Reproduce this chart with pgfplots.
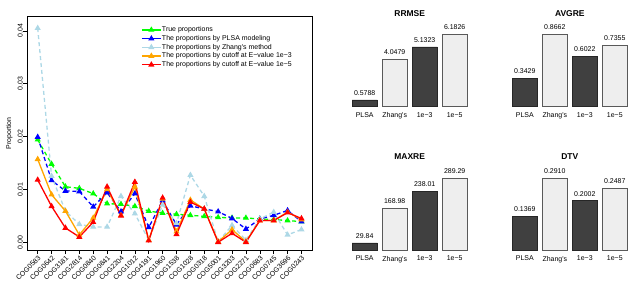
\documentclass[border=0pt]{standalone}
\usepackage{pgfplots}
\pgfplotsset{compat=1.18}
\usepackage{fontspec}
\setmainfont{Liberation Sans}[Ligatures=TeXOff]
\definecolor{rgreen}{RGB}{0,255,0}
\definecolor{rblue}{RGB}{0,0,255}
\definecolor{rlightblue}{RGB}{173,216,230}
\definecolor{rorange}{RGB}{255,165,0}
\definecolor{rred}{RGB}{255,0,0}
\definecolor{darkbar}{RGB}{64,64,64}
\definecolor{lightbar}{RGB}{238,238,238}
\pgfplotsset{
  /pgf/number format/assume math mode=true,
  ser/.style={line width=1.3bp, mark=triangle*, mark size=2.3bp, mark options={solid}},
  dsh/.style={dash pattern=on 4bp off 3bp},
  barpanel/.style={
    scale only axis, width=120bp, height=72bp,
    xmin=-0.5, xmax=3.5, ymin=0,
    axis line style={draw=none}, ytick=\empty,
    xtick={0,1,2,3}, xticklabels={PLSA,Zhang's,1e−3,1e−5},
    major tick length=0pt,
    xticklabel style={anchor=north, inner sep=0pt, yshift=-5.5bp, font=\fontsize{7}{8}\selectfont},
    clip=false,
    ybar, bar width=25.3bp,
    title style={at={(0.5,1)}, anchor=base, inner sep=0pt, yshift=12.5bp, font=\fontsize{8.5}{9}\selectfont\bfseries},
    point meta=explicit symbolic,
    nodes near coords,
    nodes near coords style={anchor=south, inner sep=0pt, yshift=4.3bp, font=\fontsize{7}{8}\selectfont},
  },
  darkb/.style={fill=darkbar, draw=black!85, line width=0.7bp, bar shift=0pt},
  lightb/.style={fill=lightbar, draw=black!65, line width=0.8bp, bar shift=0pt},
}
\begin{document}
\begin{tikzpicture}
\path[use as bounding box] (0,0) rectangle (636bp,286bp);
\begin{axis}[
  at={(27bp,35.3bp)}, anchor=south west,
  scale only axis, width=285bp, height=234.7bp,
  xmin=-0.77, xmax=19.76, ymin=-0.0016, ymax=0.0428,
  xtick={0,...,19},
  xticklabels={COG0583,COG0642,COG3181,COG2814,COG0840,COG0841,COG2204,COG1012,COG4191,COG1960,COG1538,COG1028,COG0318,COG5001,COG3203,COG2271,COG0683,COG0745,COG3696,COG0243},
  xticklabel style={rotate=45, anchor=north east, inner sep=0.5bp, font=\fontsize{7}{8}\selectfont},
  ytick={0,0.01,0.02,0.03,0.04},
  scaled y ticks=false,
  yticklabel style={rotate=90, anchor=south, inner sep=0.5bp, font=\fontsize{7}{8}\selectfont,
    /pgf/number format/fixed, /pgf/number format/fixed zerofill, /pgf/number format/precision=2},
  tick align=outside, major tick length=3.5bp, tick pos=left,
  axis line style={line width=0.6bp}, every tick/.style={line width=0.6bp, black},
  ylabel={Proportion},
  ylabel style={at={(axis description cs:-0.05,0.5)}, anchor=south, inner sep=0pt, font=\fontsize{7}{8}\selectfont},
  legend cell align=left,
  legend style={draw=none, fill=none, at={(0.40,0.96)}, anchor=north west, inner sep=0pt,
    font=\fontsize{7}{8}\selectfont, row sep=0pt,
    nodes={inner sep=0.5bp, text height=5.6bp, text depth=2.1bp}},
  legend image code/.code={\draw[#1, solid, mark repeat=2, mark phase=2] plot coordinates {(0bp,0bp) (9.5bp,0bp) (19bp,0bp)};},
]
\addplot[ser, dsh, rgreen] coordinates {
(0,0.0194)(1,0.0148)(2,0.0105)(3,0.0102)(4,0.0092)(5,0.0073)(6,0.0072)(7,0.0068)(8,0.0059)(9,0.0055)
(10,0.0053)(11,0.0051)(12,0.0049)(13,0.0047)(14,0.0046)(15,0.0046)(16,0.0044)(17,0.0043)(18,0.0041)(19,0.0039)};
\addlegendentry{True proportions}
\addplot[ser, dsh, rblue] coordinates {
(0,0.0199)(1,0.0117)(2,0.0097)(3,0.0096)(4,0.0067)(5,0.0094)(6,0.0058)(7,0.0092)(8,0.0028)(9,0.0079)
(10,0.0033)(11,0.0069)(12,0.0063)(13,0.0058)(14,0.0045)(15,0.0025)(16,0.0044)(17,0.0051)(18,0.0060)(19,0.0039)};
\addlegendentry{The proportions by PLSA modeling}
\addplot[ser, dsh, rlightblue] coordinates {
(0,0.0405)(1,0.0125)(2,0.0059)(3,0.0034)(4,0.0029)(5,0.0029)(6,0.0087)(7,0.0054)(8,0.0004)(9,0.0071)
(10,0.0036)(11,0.0127)(12,0.0087)(13,0.0001)(14,0.0032)(15,0.0004)(16,0.0044)(17,0.0057)(18,0.0014)(19,0.0024)};
\addlegendentry{The proportions by Zhang's method}
\addplot[ser, rorange] coordinates {
(0,0.0157)(1,0.0090)(2,0.0059)(3,0.0014)(4,0.0046)(5,0.0100)(6,0.0051)(7,0.0105)(8,0.0004)(9,0.0082)
(10,0.0020)(11,0.0080)(12,0.0063)(13,0.0001)(14,0.0024)(15,0.0001)(16,0.0041)(17,0.0041)(18,0.0057)(19,0.0043)};
\addlegendentry{The proportions by cutoff at E−value 1e−3}
\addplot[ser, rred] coordinates {
(0,0.0118)(1,0.0068)(2,0.0027)(3,0.0010)(4,0.0038)(5,0.0105)(6,0.0050)(7,0.0114)(8,0.0003)(9,0.0084)
(10,0.0015)(11,0.0076)(12,0.0063)(13,0.0000)(14,0.0017)(15,0.0000)(16,0.0041)(17,0.0041)(18,0.0056)(19,0.0045)};
\addlegendentry{The proportions by cutoff at E−value 1e−5}
\end{axis}
% RRMSE
\begin{axis}[barpanel, at={(349.7bp,179.3bp)}, anchor=south west, ymax=6.1826, title={RRMSE}]
\addplot[darkb] coordinates {(0,0.5788)[0.5788] (2,5.1323)[5.1323]};
\addplot[lightb] coordinates {(1,4.0479)[4.0479] (3,6.1826)[6.1826]};
\end{axis}
% AVGRE
\begin{axis}[barpanel, at={(509.8bp,179.3bp)}, anchor=south west, ymax=0.8662, title={AVGRE}]
\addplot[darkb] coordinates {(0,0.3429)[0.3429] (2,0.6022)[0.6022]};
\addplot[lightb] coordinates {(1,0.8662)[0.8662] (3,0.7355)[0.7355]};
\end{axis}
% MAXRE
\begin{axis}[barpanel, at={(349.7bp,35.7bp)}, anchor=south west, ymax=289.29, title={MAXRE}]
\addplot[darkb] coordinates {(0,29.84)[29.84] (2,238.01)[238.01]};
\addplot[lightb] coordinates {(1,168.98)[168.98] (3,289.29)[289.29]};
\end{axis}
% DTV
\begin{axis}[barpanel, at={(509.8bp,35.7bp)}, anchor=south west, ymax=0.2910, title={DTV}]
\addplot[darkb] coordinates {(0,0.1369)[0.1369] (2,0.2002)[0.2002]};
\addplot[lightb] coordinates {(1,0.2910)[0.2910] (3,0.2487)[0.2487]};
\end{axis}
\end{tikzpicture}
\end{document}
